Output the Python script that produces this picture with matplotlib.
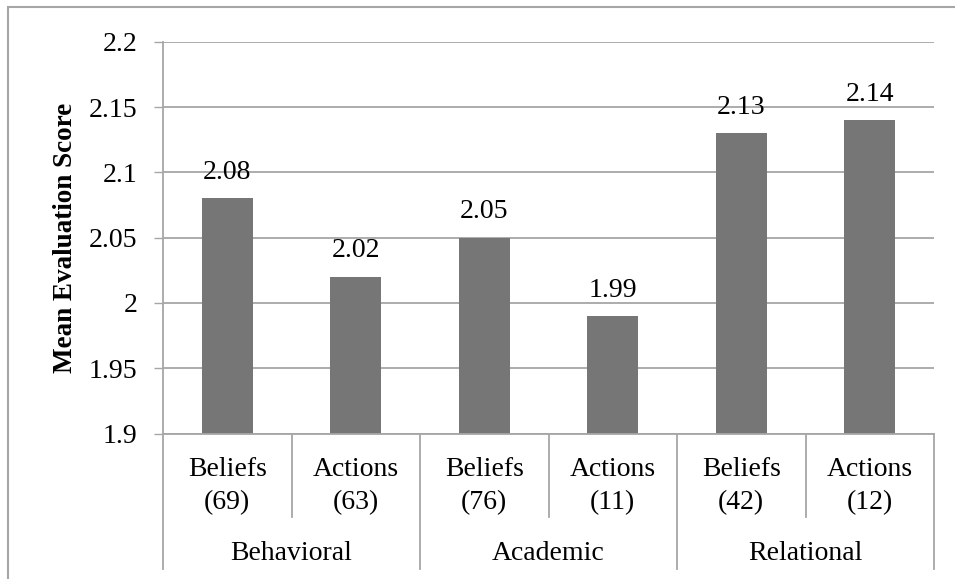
import matplotlib.pyplot as plt
from matplotlib.lines import Line2D
from matplotlib.patches import Rectangle

plt.rcParams['font.family'] = ['Liberation Serif', 'DejaVu Serif']

# dữ liệu
groups = ["Behavioral", "Academic", "Relational"]
kinds = ["Beliefs", "Actions", "Beliefs", "Actions", "Beliefs", "Actions"]
counts = ["(69)", "(63)", "(76)", "(11)", "(42)", "(12)"]
scores = [2.08, 2.02, 2.05, 1.99, 2.13, 2.14]
yticks = [1.9, 1.95, 2.0, 2.05, 2.1, 2.15, 2.2]
ytick_labels = ["1.9", "1.95", "2", "2.05", "2.1", "2.15", "2.2"]

GRID = "#a6a6a6"
BAR = "#767676"
FS = 20

W, H = 955, 579
fig = plt.figure(figsize=(W / 100, H / 100), dpi=100)

# khung viền ngoài
fig.patches.append(Rectangle((8 / W, -0.1), 1.2, 1 - 7 / H + 0.1,
                             transform=fig.transFigure, fill=False,
                             edgecolor=GRID, lw=1.5))

left, right = 163 / W, 934 / W
top, bottom = 1 - 41.7 / H, 1 - 433.5 / H
ax = fig.add_axes([left, bottom, right - left, top - bottom])

x = list(range(len(scores)))
ax.bar(x, scores, width=0.4, color=BAR, zorder=3)
for xi, v in zip(x, scores):
    ax.annotate(f"{v:.2f}", (xi, v), xytext=(0, 14), textcoords="offset points",
                ha="center", va="baseline", fontsize=FS)

ax.set_xlim(-0.5, len(scores) - 0.5)
ax.set_ylim(1.9, 2.2)
ax.set_yticks(yticks)
ax.set_yticklabels(ytick_labels, fontsize=FS)
ax.tick_params(axis="y", length=6.5, color=GRID, width=1, pad=12)
ax.set_xticks([])
ax.yaxis.grid(True, color=GRID, lw=1.3, zorder=0)
for s in ["top", "right"]:
    ax.spines[s].set_visible(False)
for s in ["left", "bottom"]:
    ax.spines[s].set_color(GRID)
    ax.spines[s].set_linewidth(1.3)
    ax.spines[s].set_zorder(4)

ax.set_ylabel("Mean Evaluation Score", fontsize=19.5, fontweight="bold",
              labelpad=8)

# nhãn trục x hai tầng
tr = ax.get_xaxis_transform()
ph = 433.5 - 41.7
def yax(py):
    return (433.5 - py) / ph

for xi, k, c in zip(x, kinds, counts):
    ax.text(xi, yax(470), k, transform=tr, ha="center", va="center", fontsize=FS)
    ax.text(xi, yax(503), c, transform=tr, ha="center", va="center", fontsize=FS)

for gi, g in enumerate(groups):
    ax.text(2 * gi + 0.5, yax(553), g, transform=tr, ha="center", va="center",
            fontsize=FS)

for b in range(len(scores) + 1):
    xb = b - 0.5
    yend = yax(569) if b % 2 == 0 else yax(517)
    ax.add_line(Line2D([xb, xb], [0, yend], transform=tr, color=GRID, lw=1.3,
                       clip_on=False))

fig.savefig("out.png", dpi=100)
